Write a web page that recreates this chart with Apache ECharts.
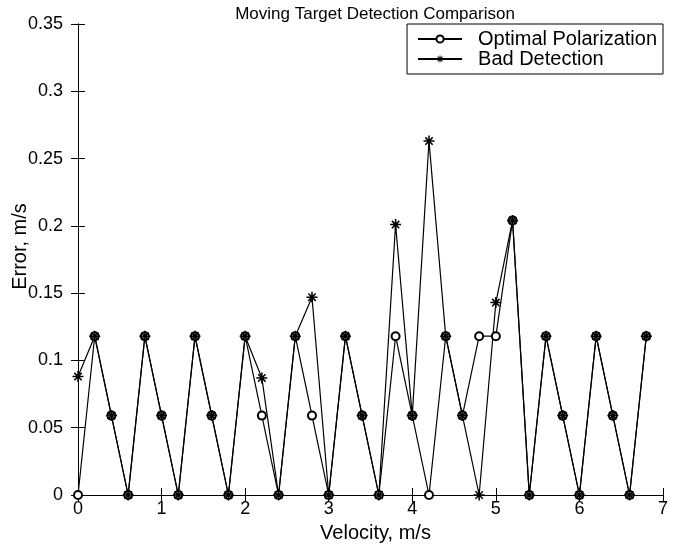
<!DOCTYPE html>
<html>
<head>
<meta charset="utf-8">
<script src="https://cdn.jsdelivr.net/npm/echarts@6/dist/echarts.min.js"></script>
<style>html,body{margin:0;padding:0;background:#fff}#c{width:673px;height:545px}</style>
</head>
<body>
<div id="c"></div>
<script>
var velocity = [0,0.2,0.4,0.6,0.8,1.0,1.2,1.4,1.6,1.8,2.0,2.2,2.4,2.6,2.8,3.0,3.2,3.4,3.6,3.8,4.0,4.2,4.4,4.6,4.8,5.0,5.2,5.4,5.6,5.8,6.0,6.2,6.4,6.6,6.8];
var optimal = [0,0.118,0.059,0,0.118,0.059,0,0.118,0.059,0,0.118,0.059,0,0.118,0.059,0,0.118,0.059,0,0.118,0.059,0,0.118,0.059,0.118,0.118,0.204,0,0.118,0.059,0,0.118,0.059,0,0.118];
var bad = [0.088,0.118,0.059,0,0.118,0.059,0,0.118,0.059,0,0.118,0.087,0,0.118,0.147,0,0.118,0.059,0,0.201,0.059,0.263,0.118,0.059,0,0.143,0.204,0,0.118,0.059,0,0.118,0.059,0,0.118];
var xTicks = [0,1,2,3,4,5,6,7];
var yTicks = [0,0.05,0.1,0.15,0.2,0.25,0.3,0.35];

var asterisk = 'path://M8.6,0L11.4,0L11.4,20L8.6,20Z M0,8.6L20,8.6L20,11.4L0,11.4Z M2.3,4.3L4.3,2.3L17.7,15.7L15.7,17.7Z M15.7,2.3L17.7,4.3L4.3,17.7L2.3,15.7Z';
function pairs(ys){return velocity.map(function(v,i){return [v, ys[i]];});}
var font = 'Liberation Sans';
var chart = echarts.init(document.getElementById('c'), null, {renderer:'canvas'});
var axLine = {show:true, lineStyle:{color:'#000', width:1}};
var tick = {show:true, inside:true, length:7, lineStyle:{color:'#000'}};
chart.setOption({
  animation:false,
  backgroundColor:'#fff',
  title:{text:'Moving Target Detection Comparison', left:370, textAlign:'center', top:1,
    textStyle:{fontFamily:font, fontSize:17, fontWeight:'normal', color:'#000'}},
  grid:{left:78, right:10, top:24, bottom:50, containLabel:false, outerBoundsMode:'none'},
  legend:{
    orient:'vertical', right:10, top:24, itemGap:0, itemWidth:44, itemHeight:9,
    padding:[5,6,5,10], borderColor:'#000', borderWidth:1, backgroundColor:'#fff', borderRadius:0,
    textStyle:{fontFamily:font, fontSize:20, lineHeight:17, color:'#000', padding:[0,0,0,11]},
    data:[{name:'Optimal Polarization'},{name:'Bad Detection'}]
  },
  xAxis:[{
    type:'value', min:0, max:7, interval:1, position:'bottom',
    name:'Velocity, m/s', nameLocation:'middle', nameGap:28, nameMoveOverlap:false,
    nameTextStyle:{fontFamily:font, fontSize:20, color:'#000', padding:[0,0,0,10]},
    axisLine:axLine, axisTick:tick,
    axisLabel:{fontFamily:font, fontSize:18, color:'#000', margin:5},
    splitLine:{show:false}
  },{
    type:'value', min:0, max:7, interval:1, position:'top',
    axisLine:axLine, axisTick:tick,
    axisLabel:{show:false}, splitLine:{show:false}
  }],
  yAxis:[{
    type:'value', min:0, max:0.35, interval:0.05, position:'left',
    name:'Error, m/s', nameLocation:'middle', nameGap:48, nameMoveOverlap:false,
    nameTextStyle:{fontFamily:font, fontSize:20, color:'#000', padding:[0,0,0,26]},
    axisLine:axLine, axisTick:tick,
    axisLabel:{fontFamily:font, fontSize:18, color:'#000', margin:15},
    splitLine:{show:false}
  },{
    type:'value', min:0, max:0.35, interval:0.05, position:'right',
    axisLine:axLine, axisTick:tick,
    axisLabel:{show:false}, splitLine:{show:false}
  }],
  series:[{
    name:'Optimal Polarization', type:'line', data:pairs(optimal),
    symbol:'emptyCircle', symbolSize:8, showAllSymbol:true,
    lineStyle:{color:'#000', width:1.2}, itemStyle:{color:'#000', borderColor:'#000', borderWidth:1}
  },{
    name:'Bad Detection', type:'line', data:pairs(bad),
    symbol:asterisk, symbolSize:11, showAllSymbol:true,
    lineStyle:{color:'#000', width:1.2}, itemStyle:{color:'#000', borderWidth:0}
  }]
});
</script>
</body>
</html>
